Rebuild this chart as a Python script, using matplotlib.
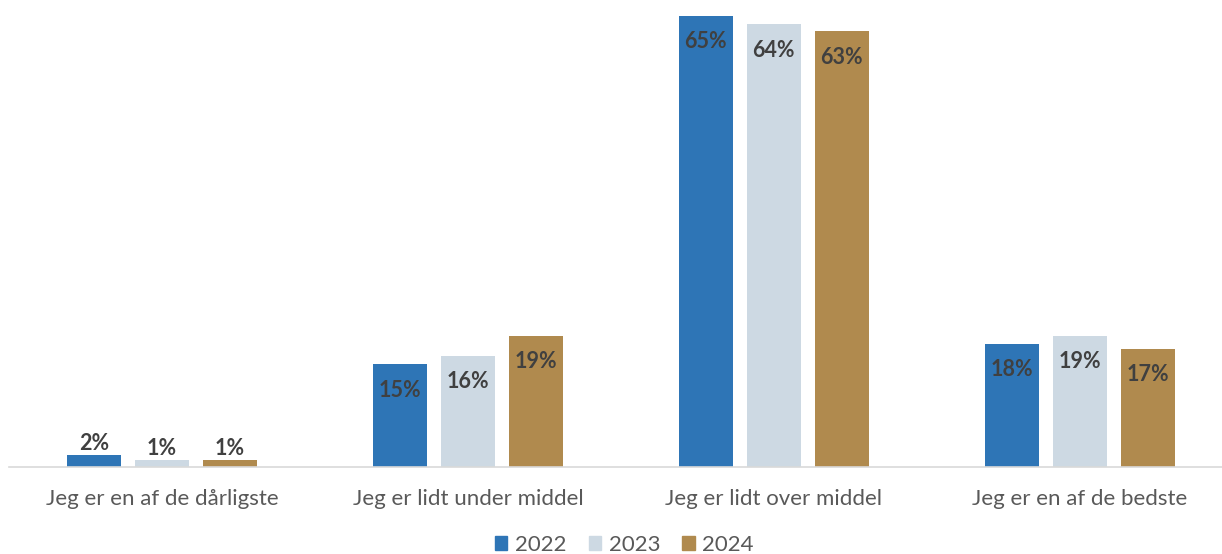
import matplotlib
matplotlib.use("Agg")
import matplotlib.pyplot as plt
import numpy as np

categories = ["Jeg er en af de dårligste", "Jeg er lidt under middel",
              "Jeg er lidt over middel", "Jeg er en af de bedste"]
years = ["2022", "2023", "2024"]
v2022 = [1.7, 14.8, 65.0, 17.7]
v2023 = [1.0, 16.0, 63.8, 18.9]
v2024 = [1.0, 18.9, 62.8, 17.0]
colors = ["#2E75B6", "#CDD9E3", "#B08A4E"]

plt.rcParams['font.family'] = ['Lato', 'DejaVu Sans']

fig = plt.figure(figsize=(12.22, 5.54), dpi=100)
ax = fig.add_axes([9/1222, (554-467)/554, (1222-9)/1222, 467/554])

x = np.arange(len(categories))
width = 0.176
offs = [-0.222, 0.0, 0.222]
for series, off, col in zip([v2022, v2023, v2024], offs, colors):
    bars = ax.bar(x + off, series, width, color=col, label=None)
    for b, v in zip(bars, series):
        cx = b.get_x() + b.get_width()/2
        if v > 5:
            ax.annotate(f"{round(v):d}%", (cx, v), xytext=(0, -11), textcoords="offset points",
                        ha="center", va="top", fontsize=15.5, fontweight="bold", color="#404040")
        else:
            ax.annotate(f"{round(v):d}%", (cx, v), xytext=(0, 1), textcoords="offset points",
                        ha="center", va="bottom", fontsize=15.5, fontweight="bold", color="#404040")

ax.set_xlim(-0.5, 3.465)
ax.set_ylim(0, 67.3)
for s in ["top", "right", "left"]:
    ax.spines[s].set_visible(False)
ax.spines["bottom"].set_color("#D9D9D9")
ax.spines["bottom"].set_linewidth(1.2)
ax.set_yticks([])
ax.set_xticks(x)
ax.set_xticklabels(categories, fontsize=16, color="#595959")
ax.tick_params(axis="x", length=0, pad=16)

handles = [plt.Rectangle((0, 0), 1, 1, color=c) for c in colors]
fig.legend(handles, years, loc="center", bbox_to_anchor=(0.511, (554-545)/554),
           ncol=3, frameon=False, fontsize=16, handlelength=0.55, handleheight=0.55,
           handletextpad=0.35, columnspacing=1.0, labelcolor="#595959")

fig.savefig("out.png", dpi=100)
